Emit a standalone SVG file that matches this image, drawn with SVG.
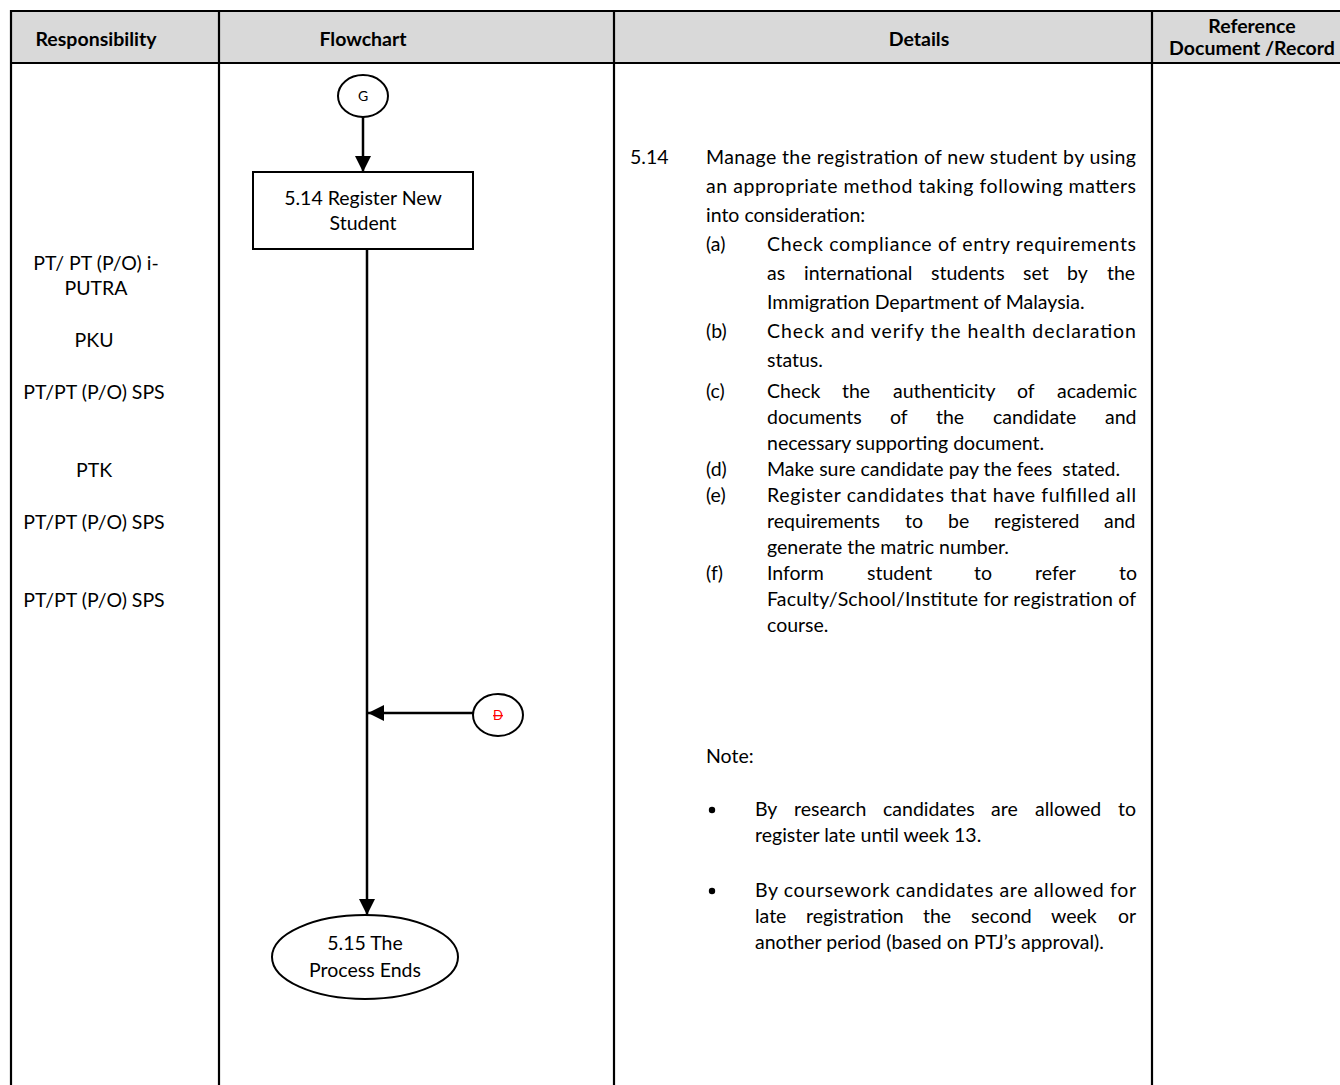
<svg xmlns="http://www.w3.org/2000/svg" width="1340" height="1085" viewBox="0 0 1340 1085">
<style>
text{font-family:Lato,"Liberation Sans",sans-serif;font-size:19.5px;fill:#000}
.h{font-weight:bold}
.m{text-anchor:middle}
.grid{stroke:#000;stroke-width:2.2;fill:none}
.shape{fill:#fff;stroke:#000;stroke-width:2}
.conn{stroke:#000;stroke-width:2.5;fill:none}
</style>
<defs>
<marker id="ah" viewBox="0 0 16 16" refX="16" refY="8" markerWidth="16" markerHeight="16" orient="auto" markerUnits="userSpaceOnUse"><path d="M0,0 L16,8 L0,16 z" fill="#000"/></marker>
</defs>
<rect x="0" y="0" width="1340" height="1085" fill="#fff"/>
<g id="table">
<rect x="11" y="11" width="1340" height="52" fill="#d9d9d9"/>
<path class="grid" d="M11,1090 V11 H1352 M11,63 H1352 M219,11 V1090 M614,11 V1090 M1152,11 V1090"/>
<text class="h m" x="96" y="46">Responsibility</text>
<text class="h m" x="363" y="46">Flowchart</text>
<text class="h m" x="919" y="46">Details</text>
<text class="h m" x="1252" y="33">Reference</text>
<text class="h m" x="1252" y="55">Document /Record</text>
</g>
<g id="responsibility">
<text class="m" x="96" y="270">PT/ PT (P/O) i-</text>
<text class="m" x="96" y="295">PUTRA</text>
<text class="m" x="94" y="347">PKU</text>
<text class="m" x="94" y="399">PT/PT (P/O) SPS</text>
<text class="m" x="94" y="477">PTK</text>
<text class="m" x="94" y="529">PT/PT (P/O) SPS</text>
<text class="m" x="94" y="607">PT/PT (P/O) SPS</text>
</g>
<g id="connectors">
<line class="conn" x1="363" y1="117" x2="363" y2="172" marker-end="url(#ah)"/>
<line class="conn" x1="367" y1="249" x2="367" y2="915" marker-end="url(#ah)"/>
<line class="conn" x1="473" y1="713" x2="368" y2="713" marker-end="url(#ah)"/>
</g>
<g id="node-G">
<ellipse class="shape" cx="363" cy="96" rx="25" ry="21"/>
<text class="m" x="363" y="101" style="font-size:14px">G</text>
</g>
<g id="node-5-14">
<rect class="shape" x="253" y="172" width="220" height="77"/>
<text class="m" x="363" y="205">5.14 Register New</text>
<text class="m" x="363" y="230">Student</text>
</g>
<g id="node-D">
<ellipse class="shape" cx="498" cy="715" rx="25" ry="21"/>
<text class="m" x="498" y="720" style="font-size:13px;fill:#ff0000;text-decoration:line-through">D</text>
</g>
<g id="node-5-15">
<ellipse class="shape" cx="365" cy="957" rx="93" ry="42"/>
<text class="m" x="365" y="950">5.15 The</text>
<text class="m" x="365" y="977">Process Ends</text>
</g>
<g id="details">
<text x="630" y="164">5.14</text>
<text x="706" y="164" textLength="430" lengthAdjust="spacing">Manage the registration of new student by using</text>
<text x="706" y="193" textLength="430" lengthAdjust="spacing">an appropriate method taking following matters</text>
<text x="706" y="222">into consideration:</text>
<text x="706" y="251">(a)</text>
<text x="767" y="251" textLength="369" lengthAdjust="spacing">Check compliance of entry requirements</text>
<text y="280"><tspan x="767">as</tspan><tspan x="804">international</tspan><tspan x="931">students</tspan><tspan x="1023">set</tspan><tspan x="1067">by</tspan><tspan x="1107">the</tspan></text>
<text x="767" y="309">Immigration Department of Malaysia.</text>
<text x="706" y="338">(b)</text>
<text x="767" y="338" textLength="369" lengthAdjust="spacing">Check and verify the health declaration</text>
<text x="767" y="367">status.</text>
<text x="706" y="398">(c)</text>
<text y="398"><tspan x="767">Check</tspan><tspan x="842">the</tspan><tspan x="893">authenticity</tspan><tspan x="1017">of</tspan><tspan x="1057">academic</tspan></text>
<text y="424"><tspan x="767">documents</tspan><tspan x="890">of</tspan><tspan x="936">the</tspan><tspan x="993">candidate</tspan><tspan x="1105">and</tspan></text>
<text x="767" y="450">necessary supporting document.</text>
<text x="706" y="476">(d)</text>
<text x="767" y="476">Make sure candidate pay the fees&#160; stated.</text>
<text x="706" y="502">(e)</text>
<text x="767" y="502" textLength="369" lengthAdjust="spacing">Register candidates that have fulfilled all</text>
<text y="528"><tspan x="767">requirements</tspan><tspan x="905">to</tspan><tspan x="948">be</tspan><tspan x="994">registered</tspan><tspan x="1104">and</tspan></text>
<text x="767" y="554">generate the matric number.</text>
<text x="706" y="580">(f)</text>
<text y="580"><tspan x="767">Inform</tspan><tspan x="867">student</tspan><tspan x="974">to</tspan><tspan x="1035">refer</tspan><tspan x="1119">to</tspan></text>
<text x="767" y="606" textLength="369" lengthAdjust="spacing">Faculty/School/Institute for registration of</text>
<text x="767" y="632">course.</text>
<text x="706" y="763">Note:</text>
<circle cx="712" cy="810" r="3.2"/>
<text y="816"><tspan x="755">By</tspan><tspan x="794">research</tspan><tspan x="883">candidates</tspan><tspan x="991">are</tspan><tspan x="1035">allowed</tspan><tspan x="1118">to</tspan></text>
<text x="755" y="842">register late until week 13.</text>
<circle cx="712" cy="891" r="3.2"/>
<text x="755" y="897" textLength="381" lengthAdjust="spacing">By coursework candidates are allowed for</text>
<text y="923"><tspan x="755">late</tspan><tspan x="806">registration</tspan><tspan x="923">the</tspan><tspan x="971">second</tspan><tspan x="1051">week</tspan><tspan x="1118">or</tspan></text>
<text x="755" y="949">another period (based on PTJ’s approval).</text>
</g>
</svg>
